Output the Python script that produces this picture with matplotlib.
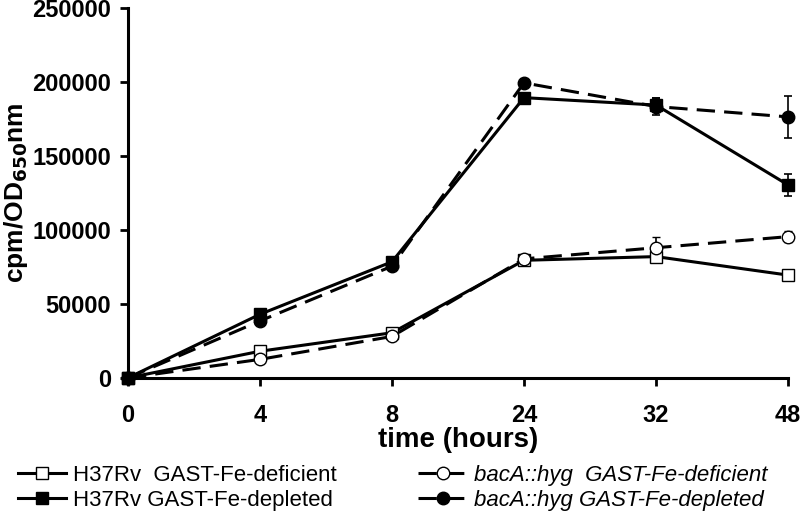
import numpy as np
import matplotlib
matplotlib.use("Agg")
import matplotlib.pyplot as plt

plt.rcParams["font.family"] = ["Liberation Sans", "DejaVu Sans"]

times = ["0", "4", "8", "24", "32", "48"]

h37_def = [0, 18000, 30500, 79500, 82000, 69500]
h37_def_err = [0, 1500, 1500, 2500, 3000, 2000]
h37_dep = [0, 43000, 78500, 189500, 184500, 130500]
h37_dep_err = [0, 2000, 2000, 3000, 5000, 7500]
bac_def = [0, 12500, 28000, 80500, 88000, 95500]
bac_def_err = [0, 1500, 1500, 2000, 7000, 3500]
bac_dep = [0, 38500, 75500, 199500, 183500, 176500]
bac_dep_err = [0, 2000, 2000, 2500, 6000, 14000]

x = np.arange(len(times))

fig = plt.figure(figsize=(8, 5.12), dpi=100)
ax = fig.add_axes([0.16, 0.262, 0.825, 0.722])

dash = (0, (6, 3))
common = dict(color="black", lw=2.2, ms=9, capsize=3, elinewidth=1.2,
              capthick=1.2, clip_on=False, zorder=3)

c1 = ax.errorbar(x, h37_def, yerr=h37_def_err, marker="s", mfc="white", mec="black",
                 mew=1.0, ls="-", **common)
c2 = ax.errorbar(x, h37_dep, yerr=h37_dep_err, marker="s", mfc="black", mec="black",
                 ls="-", **common)
c3 = ax.errorbar(x, bac_def, yerr=bac_def_err, marker="o", mfc="white", mec="black",
                 mew=1.0, ls=dash, **common)
c4 = ax.errorbar(x, bac_dep, yerr=bac_dep_err, marker="o", mfc="black", mec="black",
                 ls=dash, **common)

ax.set_xlim(0, len(times) - 1)
ax.set_ylim(0, 250000)
ax.set_xticks(x)
ax.set_xticklabels(times)
ax.set_yticks(np.arange(0, 250001, 50000))

for s in ["top", "right"]:
    ax.spines[s].set_visible(False)
for s in ["left", "bottom"]:
    ax.spines[s].set_linewidth(2.2)

ax.tick_params(axis="both", direction="out", length=6, width=2, labelsize=17)
ax.tick_params(axis="x", pad=13)
ax.tick_params(axis="y", pad=6)
for lbl in ax.get_xticklabels() + ax.get_yticklabels():
    lbl.set_fontweight("bold")

ax.set_xlabel("time (hours)", fontsize=20, fontweight="bold", labelpad=0)
ax.set_ylabel("cpm/OD$_{\\mathbf{650}}$nm", fontsize=19, fontweight="bold", labelpad=2)

leg_kw = dict(loc="center left", frameon=False, fontsize=16, handlelength=2.2,
              handletextpad=0.3, labelspacing=0.15, borderpad=0, borderaxespad=0)
leg1 = fig.legend([c1[0], c2[0]], ["H37Rv  GAST-Fe-deficient", "H37Rv GAST-Fe-depleted"],
                  bbox_to_anchor=(0.022, 0.047), **leg_kw)
leg2 = fig.legend([c3[0], c4[0]], ["bacA::hyg  GAST-Fe-deficient", "bacA::hyg GAST-Fe-depleted"],
                  bbox_to_anchor=(0.523, 0.047), **leg_kw)
for t in leg2.get_texts():
    t.set_fontstyle("italic")

fig.savefig("out.png", dpi=100)
